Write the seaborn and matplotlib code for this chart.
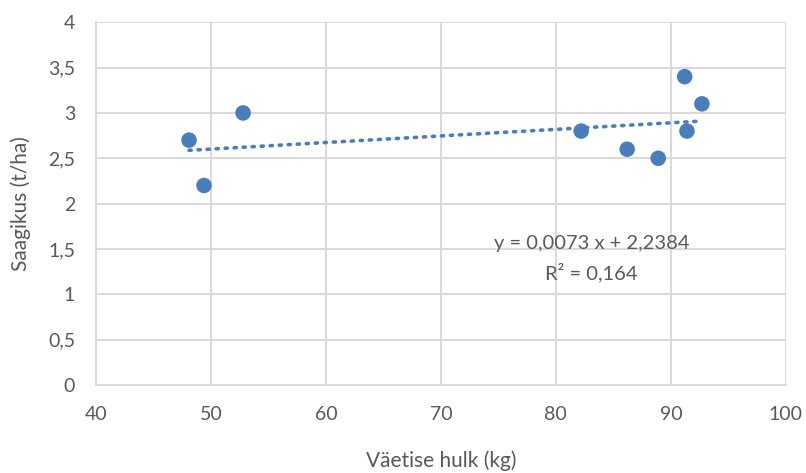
import numpy as np
import pandas as pd
import matplotlib
matplotlib.use("Agg")
import matplotlib.pyplot as plt
import seaborn as sns

# data
fert_kg = [48.1, 49.4, 52.8, 82.2, 86.2, 88.9, 91.2, 91.4, 92.7]
yield_tha = [2.7, 2.2, 3.0, 2.8, 2.6, 2.5, 3.4, 2.8, 3.1]
x_ticks = [40, 50, 60, 70, 80, 90, 100]
y_ticks = [0, 0.5, 1, 1.5, 2, 2.5, 3, 3.5, 4]
eq_text = "y = 0,0073 x + 2,2384"
r2_text = "R² = 0,164"

df = pd.DataFrame({"vaetis": fert_kg, "saak": yield_tha})

blue = "#4a7ebb"
grey_txt = "#595959"
grid_c = "#d9d9d9"

sns.set_theme(style="white")
plt.rcParams["font.family"] = ["Lato", "DejaVu Sans"]

fig = plt.figure(figsize=(8.06, 4.73), dpi=100)
ax = fig.add_axes([0.119, 0.186, 0.856, 0.767])

# linear trend line (fitted by seaborn) + points
sns.regplot(data=df, x="vaetis", y="saak", ax=ax, ci=None, scatter=False,
            line_kws=dict(color=blue, linestyle=(0, (0.6, 1.9)), linewidth=2.6,
                          dash_capstyle="round"))
sns.scatterplot(data=df, x="vaetis", y="saak", ax=ax, color=blue, s=125,
                edgecolor="none", zorder=3)

ax.text(83.1, 1.565, eq_text, ha="center", va="center", fontsize=14.5, color=grey_txt)
ax.text(83.1, 1.245, r2_text, ha="center", va="center", fontsize=14.5, color=grey_txt)

ax.set_xlim(40, 100)
ax.set_ylim(0, 4)
ax.set_xticks(x_ticks)
ax.set_yticks(y_ticks)
ax.set_xticklabels([str(v) for v in x_ticks])
ax.set_yticklabels([f"{v:g}".replace(".", ",") for v in y_ticks])
ax.tick_params(axis="both", length=0, labelsize=14, colors=grey_txt)
ax.tick_params(axis="x", pad=15)
ax.tick_params(axis="y", pad=15)

ax.grid(True, color=grid_c, linewidth=1.4)
ax.set_axisbelow(True)
for side in ["top", "right"]:
    ax.spines[side].set_visible(False)
for side in ["left", "bottom"]:
    ax.spines[side].set_color(grid_c)
    ax.spines[side].set_linewidth(1.4)

ax.set_xlabel("Väetise hulk (kg)", fontsize=15, color=grey_txt, labelpad=20)
ax.set_ylabel("Saagikus (t/ha)", fontsize=15, color=grey_txt, labelpad=12)

fig.savefig("out.png", dpi=100)
